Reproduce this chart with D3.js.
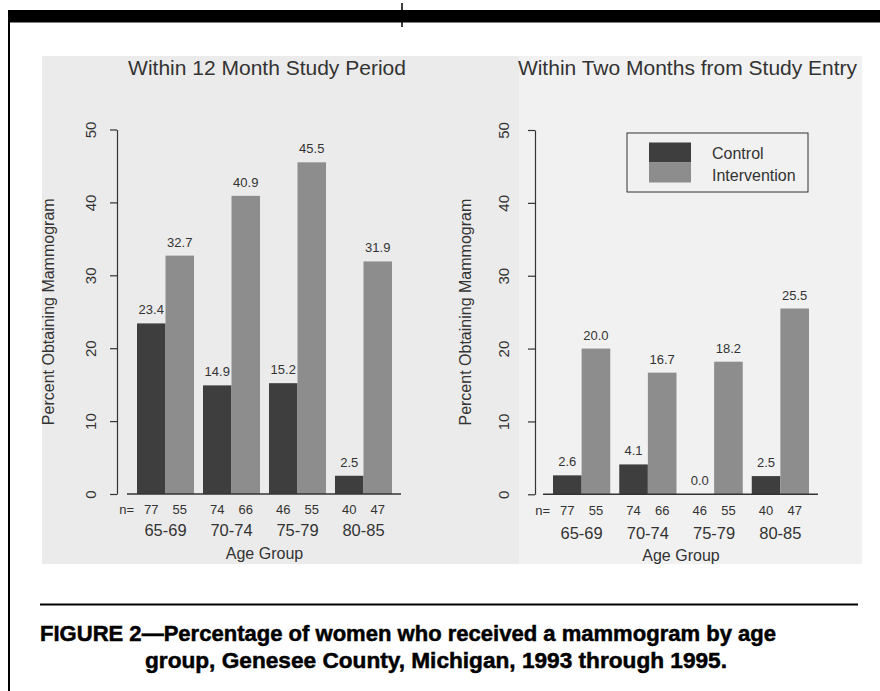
<!DOCTYPE html>
<html>
<head>
<meta charset="utf-8">
<script src="https://cdn.jsdelivr.net/npm/d3@7"></script>
<style>
  html, body { margin: 0; padding: 0; background: #ffffff; }
  svg { display: block; }
  text { font-family: "Liberation Sans", Arial, Helvetica, sans-serif; }
</style>
</head>
<body>
<svg id="chart" width="880" height="691"></svg>
<script>
// ---------- data ----------
const ageGroups = ["65-69", "70-74", "75-79", "80-85"];
const seriesNames = ["Control", "Intervention"];
const panelTitles = ["Within 12 Month Study Period", "Within Two Months from Study Entry"];
const control12 = [23.4, 14.9, 15.2, 2.5];
const intervention12 = [32.7, 40.9, 45.5, 31.9];
const control2 = [2.6, 4.1, 0.0, 2.5];
const intervention2 = [20.0, 16.7, 18.2, 25.5];
const nControl = [77, 74, 46, 40];
const nIntervention = [55, 66, 55, 47];
const yTicks = [0, 10, 20, 30, 40, 50];
const yAxisTitle = "Percent Obtaining Mammogram";
const xAxisTitle = "Age Group";
const captionLines = [
  "FIGURE 2\u2014Percentage of women who received a mammogram by age",
  "group, Genesee County, Michigan, 1993 through 1995."
];

// ---------- styles / layout ----------
const colors = { Control: "#3e3e3e", Intervention: "#8d8d8d" };
const ink = "#333333";

const panels = [
  { title: panelTitles[0], values: [control12, intervention12],
    axisX: 117, barStart: 137, barEnd: 392, yTop: 129.5, yBase: 494,
    titleX: 267, yLabelX: 48, tickLabelX: 90, nY: 513.5, ageY: 536, axTitleY: 558.5,
    bgX0: 42, bgX1: 519, bg: "#ebebeb", legend: false },
  { title: panelTitles[1], values: [control2, intervention2],
    axisX: 535, barStart: 553, barEnd: 809, yTop: 130, yBase: 494.3,
    titleX: 687.5, yLabelX: 465, tickLabelX: 503, nY: 515, ageY: 538.5, axTitleY: 560.5,
    bgX0: 519, bgX1: 862, bg: "#f1f1f1", legend: true }
];

const svg = d3.select("#chart");

// page frame
svg.append("rect").attr("x", 8).attr("y", 10).attr("width", 872).attr("height", 12.5).attr("fill", "#000");
svg.append("rect").attr("x", 8).attr("y", 10).attr("width", 2).attr("height", 681).attr("fill", "#000");
svg.append("line").attr("x1", 402).attr("x2", 402).attr("y1", 3).attr("y2", 27)
  .attr("stroke", "#000").attr("stroke-width", 1.5);

panels.forEach(p => {
  const g = svg.append("g");
  // scanned background
  g.append("rect").attr("x", p.bgX0).attr("y", 56).attr("width", p.bgX1 - p.bgX0).attr("height", 508)
    .attr("fill", p.bg);

  const y = d3.scaleLinear().domain([0, 50]).range([p.yBase, p.yTop]);
  const x0 = d3.scaleBand().domain(ageGroups).range([p.barStart, p.barEnd])
    .paddingInner(0.136).paddingOuter(0);
  const x1 = d3.scaleBand().domain(seriesNames).range([0, x0.bandwidth()]).padding(0);

  // title
  g.append("text").attr("x", p.titleX).attr("y", 75).attr("text-anchor", "middle")
    .attr("font-size", 21).attr("fill", ink).text(p.title);

  // y axis
  const ax = g.append("g").attr("transform", `translate(${p.axisX},0)`)
    .call(d3.axisLeft(y).tickValues(yTicks).tickSize(7).tickSizeOuter(0).tickFormat(d3.format("d")));
  ax.select(".domain").attr("stroke", ink).attr("stroke-width", 1.2);
  ax.selectAll(".tick line").attr("stroke", ink).attr("stroke-width", 1.2);
  ax.selectAll(".tick text")
    .attr("x", null).attr("dy", null)
    .attr("transform", `translate(${p.tickLabelX - p.axisX},0) rotate(-90)`)
    .attr("text-anchor", "middle").attr("dominant-baseline", "central")
    .attr("font-size", 15).attr("font-family", "'Liberation Sans', Arial, sans-serif")
    .attr("fill", ink);

  // y axis title
  g.append("text")
    .attr("transform", `translate(${p.yLabelX},${(p.yBase + p.yTop) / 2}) rotate(-90)`)
    .attr("text-anchor", "middle").attr("dominant-baseline", "central")
    .attr("font-size", 16).attr("fill", ink).text(yAxisTitle);

  // bars
  const rows = ageGroups.map((a, i) => ({ age: a, vals: seriesNames.map((s, k) => ({ s, v: p.values[k][i] })) }));
  const grp = g.selectAll(".grp").data(rows).join("g")
    .attr("transform", d => `translate(${x0(d.age)},0)`);
  grp.selectAll("rect").data(d => d.vals).join("rect")
    .attr("x", d => x1(d.s)).attr("width", x1.bandwidth())
    .attr("y", d => y(d.v)).attr("height", d => y(0) - y(d.v))
    .attr("fill", d => colors[d.s]);
  grp.selectAll("text.val").data(d => d.vals).join("text").attr("class", "val")
    .attr("x", d => x1(d.s) + x1.bandwidth() / 2).attr("y", d => y(d.v) - 9)
    .attr("text-anchor", "middle").attr("font-size", 13).attr("fill", ink)
    .text(d => d.v.toFixed(1));

  // baseline
  g.append("line").attr("x1", p.barStart - 10).attr("x2", p.barEnd + 9)
    .attr("y1", y(0)).attr("y2", y(0)).attr("stroke", ink).attr("stroke-width", 1.5);

  // n= row
  g.append("text").attr("x", p.barStart - 3).attr("y", p.nY).attr("text-anchor", "end")
    .attr("font-size", 13).attr("fill", ink).text("n=");
  const nvals = [nControl, nIntervention];
  ageGroups.forEach((a, i) => {
    seriesNames.forEach((s, k) => {
      g.append("text").attr("x", x0(a) + x1(s) + x1.bandwidth() / 2).attr("y", p.nY)
        .attr("text-anchor", "middle").attr("font-size", 13).attr("fill", ink)
        .text(nvals[k][i]);
    });
    g.append("text").attr("x", x0(a) + x0.bandwidth() / 2).attr("y", p.ageY)
      .attr("text-anchor", "middle").attr("font-size", 16.5).attr("fill", ink).text(a);
  });
  g.append("text").attr("x", (p.barStart + p.barEnd) / 2).attr("y", p.axTitleY)
    .attr("text-anchor", "middle").attr("font-size", 16).attr("fill", ink).text(xAxisTitle);

  // legend
  if (p.legend) {
    const lg = g.append("g");
    lg.append("rect").attr("x", 627).attr("y", 133).attr("width", 181).attr("height", 59)
      .attr("fill", "none").attr("stroke", ink).attr("stroke-width", 1);
    seriesNames.forEach((s, k) => {
      lg.append("rect").attr("x", 649).attr("y", 142.5 + k * 20).attr("width", 42).attr("height", 20)
        .attr("fill", colors[s]);
      lg.append("text").attr("x", 712).attr("y", 153 + k * 22).attr("dominant-baseline", "central")
        .attr("font-size", 16).attr("fill", ink).text(s);
    });
  }
});

// caption
svg.append("line").attr("x1", 40).attr("x2", 858).attr("y1", 604.5).attr("y2", 604.5)
  .attr("stroke", "#000").attr("stroke-width", 2);
svg.append("text").attr("x", 40).attr("y", 641).attr("font-size", 22).attr("font-weight", "bold")
  .attr("fill", "#000").attr("stroke", "#000").attr("stroke-width", 0.5)
  .attr("textLength", 736).attr("lengthAdjust", "spacingAndGlyphs").text(captionLines[0]);
svg.append("text").attr("x", 145).attr("y", 668).attr("font-size", 22).attr("font-weight", "bold")
  .attr("fill", "#000").attr("stroke", "#000").attr("stroke-width", 0.5)
  .attr("textLength", 582).attr("lengthAdjust", "spacingAndGlyphs").text(captionLines[1]);
</script>
</body>
</html>
